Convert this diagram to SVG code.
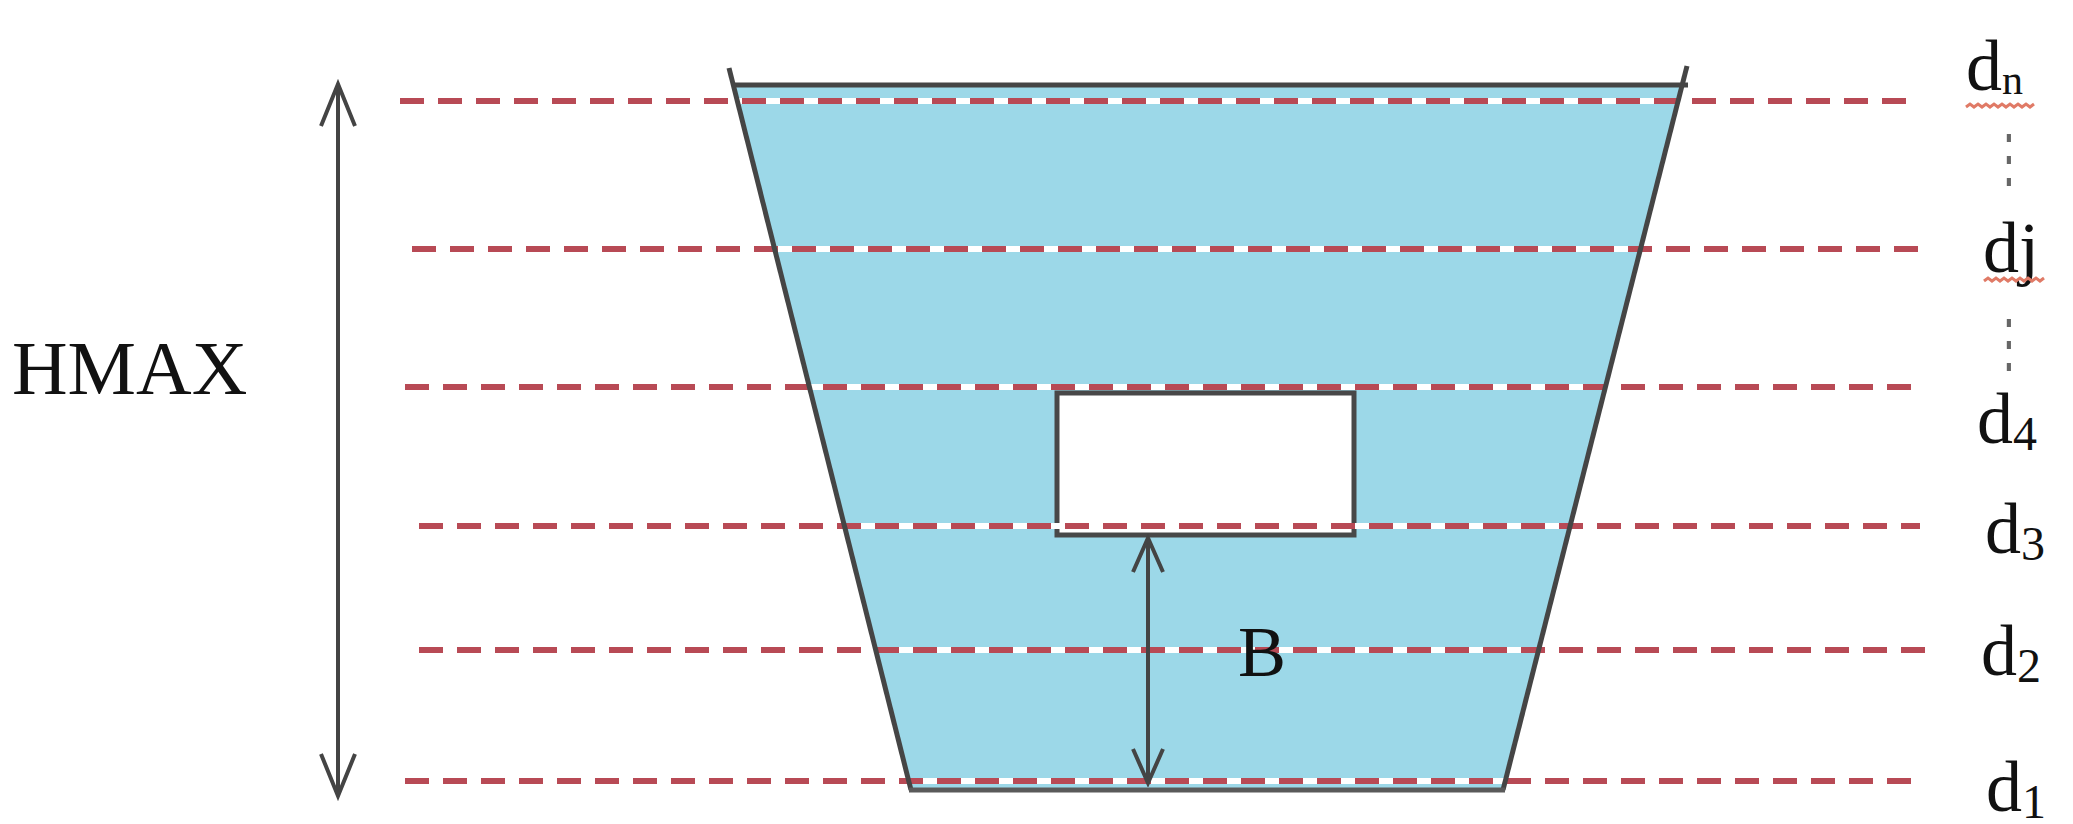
<svg xmlns="http://www.w3.org/2000/svg" width="2073" height="824" viewBox="0 0 2073 824">
<style>
.lbl{font-family:"Liberation Serif","Times New Roman",serif;fill:#111;}
.big{font-size:77px;}
.dl{font-size:72px;}
.sub{font-size:48px;}
.dash{fill:none;stroke:#B84A55;stroke-width:6;stroke-dasharray:24 14;}
.white{fill:none;stroke:#ffffff;stroke-width:6;}
.edge{fill:none;stroke:#454545;stroke-width:5;}
.arrow{fill:none;stroke:#444;stroke-width:4;}
.squig{fill:none;stroke:#E07A66;stroke-width:3;}
.dots{font-family:"DejaVu Sans",sans-serif;font-size:40px;fill:#666;}
</style>
<defs>
<marker id="hv" markerUnits="userSpaceOnUse" markerWidth="50" markerHeight="50" refX="44" refY="20" orient="auto-start-reverse" viewBox="0 0 50 40">
<path d="M2,3 L44,20 L2,37" fill="none" stroke="#444" stroke-width="4"/>
</marker>
<marker id="bv" markerUnits="userSpaceOnUse" markerWidth="40" markerHeight="40" refX="36" refY="17" orient="auto-start-reverse" viewBox="0 0 40 34">
<path d="M2,2 L36,17 L2,32" fill="none" stroke="#444" stroke-width="4"/>
</marker>
</defs>
<rect width="2073" height="824" fill="#ffffff"/>
<g id="channel">
<polygon points="734,86 1682,86 1503,789 911,789" fill="#9CD8E8"/>
</g>
<g id="obstacle">
<rect x="1057" y="393" width="297" height="142" fill="#ffffff" stroke="#484848" stroke-width="5"/>
</g>
<g id="levels">
<line class="white" x1="400" y1="101" x2="1914" y2="101"/>
<line class="dash" x1="400" y1="101" x2="1914" y2="101"/>
<line class="white" x1="412" y1="249" x2="1920" y2="249"/>
<line class="dash" x1="412" y1="249" x2="1920" y2="249"/>
<line class="white" x1="405" y1="387" x2="1914" y2="387"/>
<line class="dash" x1="405" y1="387" x2="1914" y2="387"/>
<line class="white" x1="419" y1="526" x2="1920" y2="526"/>
<line class="dash" x1="419" y1="526" x2="1920" y2="526"/>
<line class="white" x1="419" y1="650" x2="1927" y2="650"/>
<line class="dash" x1="419" y1="650" x2="1927" y2="650"/>
<line class="white" x1="405" y1="781" x2="1914" y2="781"/>
<line class="dash" x1="405" y1="781" x2="1914" y2="781"/>
</g>
<g id="outline">
<line class="edge" x1="733" y1="85" x2="1688" y2="85"/>
<line class="edge" x1="729" y1="68" x2="911" y2="790"/>
<line class="edge" x1="1687" y1="66" x2="1503" y2="790"/>
<line class="edge" x1="909" y1="790" x2="1505" y2="790" style="stroke:#5a5a5a"/>
</g>
<g id="connectors">
<line class="arrow" x1="338" y1="84" x2="338" y2="796" marker-start="url(#hv)" marker-end="url(#hv)"/>
<line class="arrow" x1="1148" y1="538" x2="1148" y2="783" marker-start="url(#bv)" marker-end="url(#bv)"/>
</g>
<g id="label-hmax"><text class="lbl big" x="12" y="394">HMAX</text></g>
<g id="label-b"><text class="lbl" x="1238" y="676" style="font-size:72px">B</text></g>
<g id="labels-right">
<text class="lbl dl" x="1966" y="90">d<tspan class="sub" style="font-size:42px" dy="4">n</tspan></text>
<path class="squig" d="M1966,107 l4,-3 l4,3 l4,-3 l4,3 l4,-3 l4,3 l4,-3 l4,3 l4,-3 l4,3 l4,-3 l4,3 l4,-3 l4,3 l4,-3 l4,3 l4,-3"/>
<text class="dots" x="2009" y="180" transform="translate(2009,180) scale(1,1.6) translate(-2009,-180)" text-anchor="middle">⋮</text>
<text class="lbl dl" x="1983" y="272">dj</text>
<path class="squig" d="M1984,281 l4,-3 l4,3 l4,-3 l4,3 l4,-3 l4,3 l4,-3 l4,3 l4,-3 l4,3 l4,-3 l4,3 l4,-3 l4,3 l4,-3"/>
<text class="dots" x="2009" y="365" transform="translate(2009,365) scale(1,1.6) translate(-2009,-365)" text-anchor="middle">⋮</text>
<text class="lbl dl" x="1977" y="443">d<tspan class="sub" dy="7">4</tspan></text>
<text class="lbl dl" x="1985" y="553">d<tspan class="sub" dy="7">3</tspan></text>
<text class="lbl dl" x="1981" y="675">d<tspan class="sub" dy="7">2</tspan></text>
<text class="lbl dl" x="1986" y="811">d<tspan class="sub" dy="7">1</tspan></text>
</g>
</svg>
